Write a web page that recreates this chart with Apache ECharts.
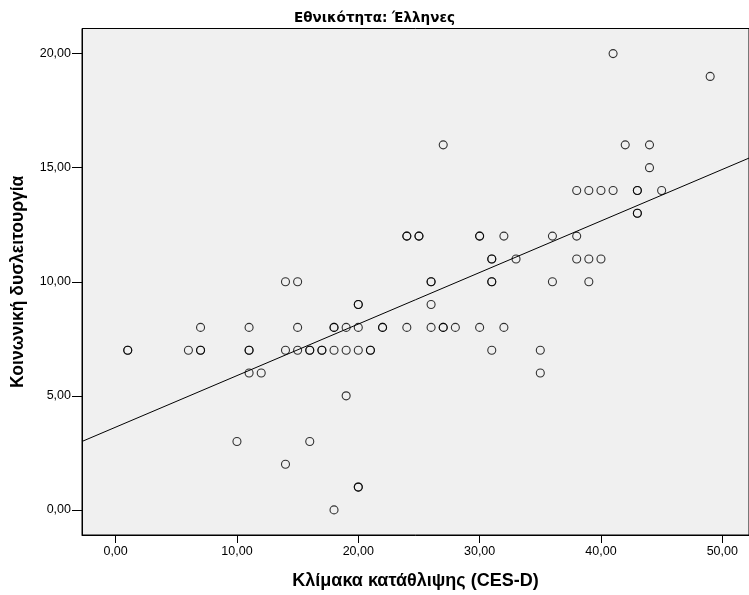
<!DOCTYPE html>
<html>
<head>
<meta charset="utf-8">
<script src="https://cdn.jsdelivr.net/npm/echarts@6/dist/echarts.min.js"></script>
<style>
html,body{margin:0;padding:0;background:#fff;}
#chart{width:749px;height:595px;}
</style>
</head>
<body>
<div id="chart"></div>
<script>
// CES-D depression scale (x) and social dysfunction (y); repeated pairs are overlapping cases
const cesd = [1,1,6,7,7,7,10,11,11,11,11,12,14,14,14,15,15,15,16,16,16,17,17,18,18,18,18,19,19,19,20,20,20,20,20,20,21,21,22,22,24,24,24,25,25,26,26,26,26,27,27,27,28,30,30,30,31,31,31,31,31,32,32,33,35,35,36,36,38,38,38,39,39,39,40,40,41,41,42,43,43,43,43,44,44,45,49];
const social = [7,7,7,7,7,8,3,8,7,7,6,6,10,7,2,10,8,7,7,7,3,7,7,8,8,7,0,8,7,5,9,9,8,7,1,1,7,7,8,8,12,12,8,12,12,10,10,9,8,16,8,8,8,12,12,8,11,11,10,10,7,12,8,11,7,6,12,10,14,12,11,14,11,10,14,11,20,14,16,14,14,13,13,16,15,14,19];
// Fit line endpoints
const fitX = [-2.77, 52.2];
const fitY = [3.0, 15.42];
const xTicks = [0, 10, 20, 30, 40, 50];
const yTicks = [0, 5, 10, 15, 20];
const titleText = 'Εθνικότητα: Έλληνες';
const xTitle = 'Κλίμακα κατάθλιψης (CES-D)';
const yTitle = 'Κοινωνική δυσλειτουργία';

const FONT = "'Liberation Sans', Arial, sans-serif";
const fmt = v => v.toFixed(2).replace('.', ',');

const chart = echarts.init(document.getElementById('chart'), null, {renderer: 'canvas'});
chart.setOption({
  animation: false,
  backgroundColor: '#ffffff',
  title: {
    text: titleText, left: 'center', top: 6,
    textStyle: {fontFamily: "'DejaVu Sans', sans-serif", fontSize: 13.5, fontWeight: 'bold', color: '#000'}
  },
  grid: {
    left: 82, right: -2, top: 28.5, bottom: 58,
    show: true, backgroundColor: '#f0f0f0', borderColor: '#000', borderWidth: 1
  },
  xAxis: {
    type: 'value', min: -2.77, max: 52.2,
    splitLine: {show: false},
    axisLine: {show: true, onZero: false, lineStyle: {color: '#000', width: 1}},
    axisTick: {show: true, customValues: xTicks, length: 8, lineStyle: {color: '#000'}},
    axisLabel: {show: true, customValues: xTicks, formatter: fmt, margin: 10,
      fontFamily: FONT, fontSize: 12.5, color: '#000'},
    name: xTitle, nameLocation: 'middle', nameGap: 37,
    nameTextStyle: {fontFamily: FONT, fontSize: 18, fontWeight: 'bold', color: '#000'}
  },
  yAxis: {
    type: 'value', min: -1.1, max: 21.1,
    splitLine: {show: false},
    axisLine: {show: true, onZero: false, lineStyle: {color: '#000', width: 1}},
    axisTick: {show: true, customValues: yTicks, length: 10, lineStyle: {color: '#000'}},
    axisLabel: {show: true, customValues: yTicks, formatter: fmt, margin: 11,
      fontFamily: FONT, fontSize: 12.5, color: '#000'},
    name: yTitle, nameLocation: 'middle', nameGap: 55, nameRotate: 90,
    nameTextStyle: {fontFamily: FONT, fontSize: 17.5, fontWeight: 'bold', color: '#000'}
  },
  series: [
    {
      type: 'scatter',
      data: cesd.map((x, i) => [x, social[i]]),
      symbol: 'circle', symbolSize: 8,
      itemStyle: {color: 'rgba(0,0,0,0)', borderColor: '#000', borderWidth: 1.1},
      z: 3
    },
    {
      type: 'line',
      data: fitX.map((x, i) => [x, fitY[i]]),
      showSymbol: false, symbol: 'none',
      lineStyle: {color: '#000', width: 1},
      z: 2
    }
  ]
});
</script>
</body>
</html>
